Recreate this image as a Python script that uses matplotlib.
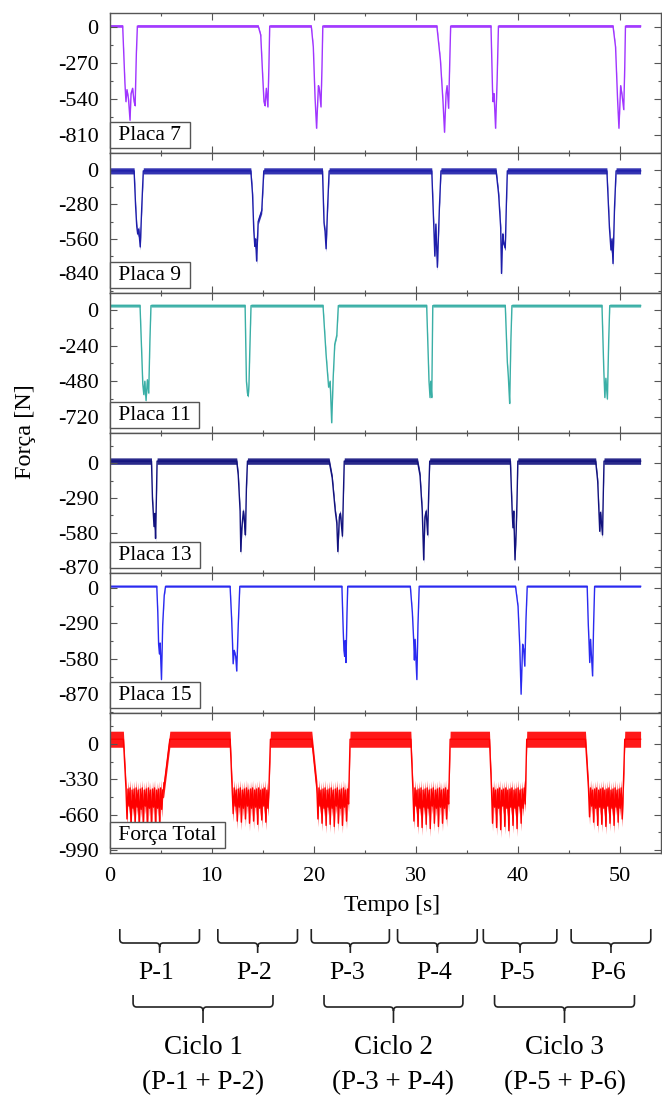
import matplotlib.pyplot as plt
from matplotlib.path import Path
from matplotlib.patches import PathPatch
from matplotlib.ticker import MultipleLocator

plt.rcParams['font.family'] = ['Liberation Serif', 'DejaVu Serif']
plt.rcParams['axes.unicode_minus'] = False

# force on each plate [N] against time [s]
placa7_t = [0.0, 1.28, 1.5, 1.6, 1.7, 1.85, 2.0, 2.1, 2.25, 2.4, 2.5, 2.62, 2.72,
            14.55, 14.8, 15.0, 15.12, 15.22, 15.35, 15.5, 15.6, 15.68,
            19.75, 19.95, 20.12, 20.27, 20.45, 20.55, 20.7, 20.8, 20.88,
            32.05, 32.4, 32.65, 32.8, 32.95, 33.05, 33.2, 33.3, 33.4,
            37.35, 37.5, 37.55, 37.65, 37.8, 37.95, 38.08,
            49.3, 49.55, 49.75, 49.88, 50.05, 50.2, 50.35, 50.45, 50.52, 52.0]
placa7_f = [8, 8, -420, -560, -470, -540, -700, -500, -460, -560, -590, -200, 8,
            8, -60, -380, -560, -590, -460, -600, -300, 8,
            8, -150, -530, -760, -440, -470, -600, -300, 8,
            8, -250, -560, -790, -500, -440, -610, -300, 8,
            8, -470, -560, -500, -760, -400, 8,
            8, -150, -550, -760, -440, -520, -620, -300, 8, 8]

placa9_t = [0.0, 2.4, 2.55, 2.66, 2.75, 2.85, 3.0, 3.15, 3.3,
            13.83, 14.0, 14.12, 14.22, 14.3, 14.4, 14.55, 14.7, 14.9, 15.1,
            20.85, 21.0, 21.1, 21.2, 21.35, 21.5,
            31.55, 31.75, 31.85, 31.95, 32.1, 32.3, 32.45,
            37.85, 38.1, 38.3, 38.38, 38.5, 38.6, 38.75, 38.85, 38.95,
            48.7, 48.95, 49.1, 49.2, 49.3, 49.45, 49.6, 52.0]
placa9_f = [-8, -8, -300, -460, -520, -480, -625, -300, -8,
            -8, -200, -490, -620, -560, -740, -420, -380, -330, -8,
            -8, -430, -500, -640, -300, -8,
            -8, -460, -700, -440, -790, -300, -8,
            -8, -200, -470, -840, -520, -600, -630, -300, -8,
            -8, -470, -650, -560, -760, -300, -8, -8]

placa11_t = [0.0, 2.98, 3.15, 3.25, 3.35, 3.45, 3.57, 3.7, 3.83, 3.95, 4.05,
             13.27, 13.4, 13.5, 13.58, 13.65, 13.72, 13.85,
             20.9, 21.2, 21.45, 21.6, 21.75, 21.9, 22.05, 22.25, 22.4,
             31.05, 31.2, 31.28, 31.38, 31.45, 31.55, 31.65,
             38.75, 38.95, 39.05, 39.1, 39.18, 39.3, 39.4,
             48.22, 48.4, 48.5, 48.6, 48.75, 48.88, 48.98, 52.0]
placa11_f = [30, 30, -300, -500, -570, -480, -610, -470, -560, -200, 30,
             30, -480, -560, -580, -500, -300, 30,
             30, -300, -520, -480, -760, -450, -230, -170, 30,
             30, -300, -480, -590, -480, -590, 30,
             30, -350, -450, -520, -630, -200, 30,
             30, -410, -590, -460, -600, -200, 30, 30]

placa13_t = [0.0, 4.1, 4.2, 4.28, 4.35, 4.42, 4.5, 4.58, 4.65,
             12.45, 12.6, 12.78, 12.85, 12.95, 13.1, 13.2, 13.3, 13.4, 13.5,
             21.5, 21.8, 22.1, 22.25, 22.35, 22.5, 22.6, 22.8, 22.9, 22.98,
             30.15, 30.4, 30.62, 30.76, 30.88, 31.0, 31.15, 31.25, 31.35,
             39.25, 39.42, 39.5, 39.58, 39.7, 39.82, 39.9, 39.98,
             47.6, 47.8, 47.92, 48.0, 48.08, 48.27, 48.35, 48.42, 52.0]
placa13_f = [20, 20, -300, -420, -530, -420, -630, -300, 20,
             20, -100, -400, -740, -540, -400, -480, -600, -200, 20,
             20, -120, -400, -500, -740, -450, -420, -610, -250, 20,
             20, -100, -400, -810, -450, -400, -600, -250, 20,
             20, -395, -540, -400, -810, -560, -300, 20,
             20, -150, -400, -570, -410, -600, -250, 20, 20]

placa15_t = [0.0, 4.62, 4.72, 4.8, 4.88, 4.95, 5.08, 5.2, 5.35, 5.48,
             11.8, 11.95, 12.03, 12.1, 12.2, 12.35, 12.45, 12.6, 12.75,
             22.75, 22.88, 22.95, 23.02, 23.08, 23.15, 23.25, 23.32,
             29.45, 29.65, 29.78, 29.85, 29.92, 30.09, 30.2, 30.32,
             39.75, 40.0, 40.17, 40.3, 40.45, 40.55, 40.66, 40.78, 40.9,
             46.77, 46.88, 46.95, 47.02, 47.1, 47.3, 47.4, 47.5, 52.0]
placa15_f = [15, 15, -200, -460, -540, -450, -750, -300, -60, 15,
             15, -250, -430, -620, -510, -560, -680, -300, 15,
             15, -350, -510, -560, -430, -610, -200, 15,
             15, -200, -430, -590, -420, -750, -300, 15,
             15, -150, -480, -870, -460, -500, -640, -250, 15,
             15, -300, -440, -610, -420, -720, -300, 15, 15]

# total force: idle level between passes, and the loaded part of each pass
total_idle = 45
total_drop_start = [1.35, 11.8, 19.8, 29.5, 37.2, 46.6]
total_rise_end = [5.9, 15.75, 23.55, 33.35, 40.85, 50.45]
total_end = 52.0
total_press_t = [
    [1.6, 1.7, 1.8, 1.9, 2.0, 2.1, 2.2, 2.3, 2.4, 2.5, 2.6, 2.7, 2.8, 2.9, 3.0, 3.1, 3.2, 3.3, 3.4,
     3.5, 3.6, 3.7, 3.8, 3.9, 4.0, 4.1, 4.2, 4.3, 4.4, 4.5, 4.6, 4.7, 4.8, 4.9, 5.0, 5.1, 5.2, 5.3],
    [12.0, 12.1, 12.2, 12.3, 12.4, 12.5, 12.6, 12.7, 12.8, 12.9, 13.0, 13.1, 13.2, 13.3, 13.4, 13.5,
     13.6, 13.7, 13.8, 13.9, 14.0, 14.1, 14.2, 14.3, 14.4, 14.5, 14.6, 14.7, 14.8, 14.9, 15.0, 15.1,
     15.2, 15.3, 15.4, 15.5, 15.6],
    [20.3, 20.4, 20.5, 20.6, 20.7, 20.8, 20.9, 21.0, 21.1, 21.2, 21.3, 21.4, 21.5, 21.6, 21.7, 21.8,
     21.9, 22.0, 22.1, 22.2, 22.3, 22.4, 22.5, 22.6, 22.7, 22.8, 22.9, 23.0, 23.1, 23.2, 23.3, 23.4],
    [29.7, 29.8, 29.9, 30.0, 30.1, 30.2, 30.3, 30.4, 30.5, 30.6, 30.7, 30.8, 30.9, 31.0, 31.1, 31.2,
     31.3, 31.4, 31.5, 31.6, 31.7, 31.8, 31.9, 32.0, 32.1, 32.2, 32.3, 32.4, 32.5, 32.6, 32.7, 32.8,
     32.9, 33.0, 33.1, 33.2],
    [37.4, 37.5, 37.6, 37.7, 37.8, 37.9, 38.0, 38.1, 38.2, 38.3, 38.4, 38.5, 38.6, 38.7, 38.8, 38.9,
     39.0, 39.1, 39.2, 39.3, 39.4, 39.5, 39.6, 39.7, 39.8, 39.9, 40.0, 40.1, 40.2, 40.3, 40.4, 40.5,
     40.6, 40.7],
    [46.9, 47.0, 47.1, 47.2, 47.3, 47.4, 47.5, 47.6, 47.7, 47.8, 47.9, 48.0, 48.1, 48.2, 48.3, 48.4,
     48.5, 48.6, 48.7, 48.8, 48.9, 49.0, 49.1, 49.2, 49.3, 49.4, 49.5, 49.6, 49.7, 49.8, 49.9, 50.0,
     50.1, 50.2, 50.3],
]
total_press_f = [
    [-410, -700, -420, -580, -410, -780, -430, -600, -420, -760, -410, -590, -430, -790, -420, -610,
     -410, -770, -430, -580, -420, -800, -410, -600, -430, -780, -420, -590, -410, -790, -430, -600,
     -420, -760, -410, -610, -430, -420],
    [-420, -650, -410, -580, -430, -720, -420, -590, -410, -730, -430, -600, -420, -700, -410, -580,
     -430, -740, -420, -600, -410, -720, -430, -590, -420, -750, -410, -600, -430, -710, -420, -580,
     -410, -730, -430, -600, -420],
    [-420, -700, -410, -580, -430, -740, -420, -600, -410, -760, -430, -590, -420, -750, -410, -600,
     -430, -770, -420, -580, -410, -740, -430, -600, -420, -760, -410, -590, -430, -720, -420, -560],
    [-420, -720, -410, -580, -430, -770, -420, -600, -410, -780, -430, -590, -420, -750, -410, -600,
     -430, -790, -420, -580, -410, -740, -430, -600, -420, -770, -410, -590, -430, -740, -420, -600,
     -410, -700, -430, -560],
    [-420, -740, -410, -590, -430, -780, -420, -600, -410, -800, -430, -580, -420, -770, -410, -600,
     -430, -810, -420, -590, -410, -760, -430, -600, -420, -790, -410, -580, -430, -740, -420, -600,
     -410, -560],
    [-420, -680, -410, -580, -430, -730, -420, -600, -410, -760, -430, -590, -420, -750, -410, -600,
     -430, -770, -420, -580, -410, -740, -430, -600, -420, -760, -410, -590, -430, -730, -420, -600,
     -410, -700, -430],
]

# passes and cycles marked under the time axis [s]
pass_labels = ['P-1', 'P-2', 'P-3', 'P-4', 'P-5', 'P-6']
pass_spans = [(1.0, 8.8), (10.6, 18.4), (19.75, 27.4), (28.2, 36.0), (36.6, 43.8), (45.2, 53.0)]
cycle_labels = ['Ciclo 1', 'Ciclo 2', 'Ciclo 3']
cycle_sums = ['(P-1 + P-2)', '(P-3 + P-4)', '(P-5 + P-6)']
cycle_spans = [(2.3, 16.0), (21.0, 34.6), (37.7, 51.4)]

# assemble the total force trace
total_t = [0.0]
total_f = [total_idle]
for t0, pt, pf, t1 in zip(total_drop_start, total_press_t, total_press_f, total_rise_end):
    total_t += [t0] + pt + [t1]
    total_f += [total_idle] + pf + [total_idle]
total_t.append(total_end)
total_f.append(total_idle)

# name, t, f, colour, noise half-width, y limits, y tick step
panels = [
    ('Placa 7', placa7_t, placa7_f, '#a035ff', 10, (-946, 106), 270),
    ('Placa 9', placa9_t, placa9_f, '#1e1eaa', 25, (-999, 137), 280),
    ('Placa 11', placa11_t, placa11_f, '#3aafa6', 10, (-829, 115), 240),
    ('Placa 13', placa13_t, placa13_f, '#12127e', 27, (-920, 256), 290),
    ('Placa 15', placa15_t, placa15_f, '#2a2af0', 8, (-1024, 124), 290),
    ('Força Total', total_t, total_f, '#ff0000', 75, (-1018, 290), 330),
]

W, H = 662, 1095
fig = plt.figure(figsize=(W / 100, H / 100), dpi=100)
left = 109.6 / W
width = (661 - 109.6) / W
top_px, panel_px = 13, 140
spine_c = '#555555'

axes = []
for i, (name, t, f, color, band, ylim, step) in enumerate(panels):
    y_top = top_px + i * panel_px
    ax = fig.add_axes([left, 1 - (y_top + panel_px) / H, width, panel_px / H],
                      sharex=axes[0] if axes else None)
    axes.append(ax)
    f_lo = [v - band for v in f]
    f_hi = [v + band for v in f]
    ax.fill_between(t, f_lo, f_hi, color=color, lw=0, alpha=0.9, zorder=1)
    ax.plot(t, f, color=color, lw=1.0, zorder=2)
    ax.set_ylim(*ylim)
    ax.yaxis.set_major_locator(MultipleLocator(step))
    ax.yaxis.set_minor_locator(MultipleLocator(step / 2))
    ax.tick_params(which='both', direction='in', top=True, right=True,
                   color=spine_c, width=0.8, labelsize=16)
    ax.tick_params(axis='y', pad=8)
    ax.tick_params(axis='x', pad=10)
    ax.tick_params(which='major', length=5)
    ax.tick_params(which='minor', length=2.5)
    for sp in ax.spines.values():
        sp.set_color(spine_c)
        sp.set_linewidth(1.0)
    if i < len(panels) - 1:
        ax.tick_params(labelbottom=False)
    ax.annotate(' ' + name + ' ', xy=(0, 0), xycoords='axes fraction',
                xytext=(2.5, 6), textcoords='offset points', ha='left', va='bottom',
                fontsize=15.5, zorder=5,
                bbox=dict(boxstyle='square,pad=0.15', fc='white', ec=spine_c, lw=1.0))

axes[0].set_xlim(0, 54)
axes[0].xaxis.set_major_locator(MultipleLocator(10))
axes[0].xaxis.set_minor_locator(MultipleLocator(5))

fig.text(392 / W, 1 - 905 / H, 'Tempo [s]', ha='center', va='center', fontsize=17)
fig.text(25 / W, 1 - 432 / H, 'Força [N]', ha='center', va='center',
         rotation=90, fontsize=17.5)

# braces below the plot, x in seconds, y in pixel rows from the top
bax = fig.add_axes([left, 0, width, (H - 860) / H])
bax.set_xlim(0, 54)
bax.set_ylim(H, 860)
bax.axis('off')


def brace(ax, x0, x1, y_top, y_mid, y_tip, rx=0.35, ry=4):
    xc = (x0 + x1) / 2
    verts = [(x0, y_top), (x0, y_mid - ry), (x0, y_mid), (x0 + rx, y_mid),
             (xc - rx, y_mid), (xc, y_mid), (xc, y_mid + ry), (xc, y_tip),
             (xc, y_mid + ry), (xc, y_mid), (xc + rx, y_mid),
             (x1 - rx, y_mid), (x1, y_mid), (x1, y_mid - ry), (x1, y_top)]
    codes = [Path.MOVETO, Path.LINETO, Path.CURVE3, Path.CURVE3,
             Path.LINETO, Path.CURVE3, Path.CURVE3, Path.LINETO,
             Path.MOVETO, Path.CURVE3, Path.CURVE3,
             Path.LINETO, Path.CURVE3, Path.CURVE3, Path.LINETO]
    ax.add_patch(PathPatch(Path(verts, codes), fill=False, lw=1.2,
                           ec='#222222', clip_on=False))
    return xc


for lab, (x0, x1) in zip(pass_labels, pass_spans):
    xc = brace(bax, x0, x1, 929, 943, 953)
    bax.text(xc - 0.3, 973, lab, ha='center', va='center', fontsize=18.5)

for lab, lab2, (x0, x1) in zip(cycle_labels, cycle_sums, cycle_spans):
    xc = brace(bax, x0, x1, 995, 1007, 1023)
    bax.text(xc, 1048, lab, ha='center', va='center', fontsize=19.5)
    bax.text(xc, 1083, lab2, ha='center', va='center', fontsize=19.5)

fig.savefig('out.png', dpi=100)
